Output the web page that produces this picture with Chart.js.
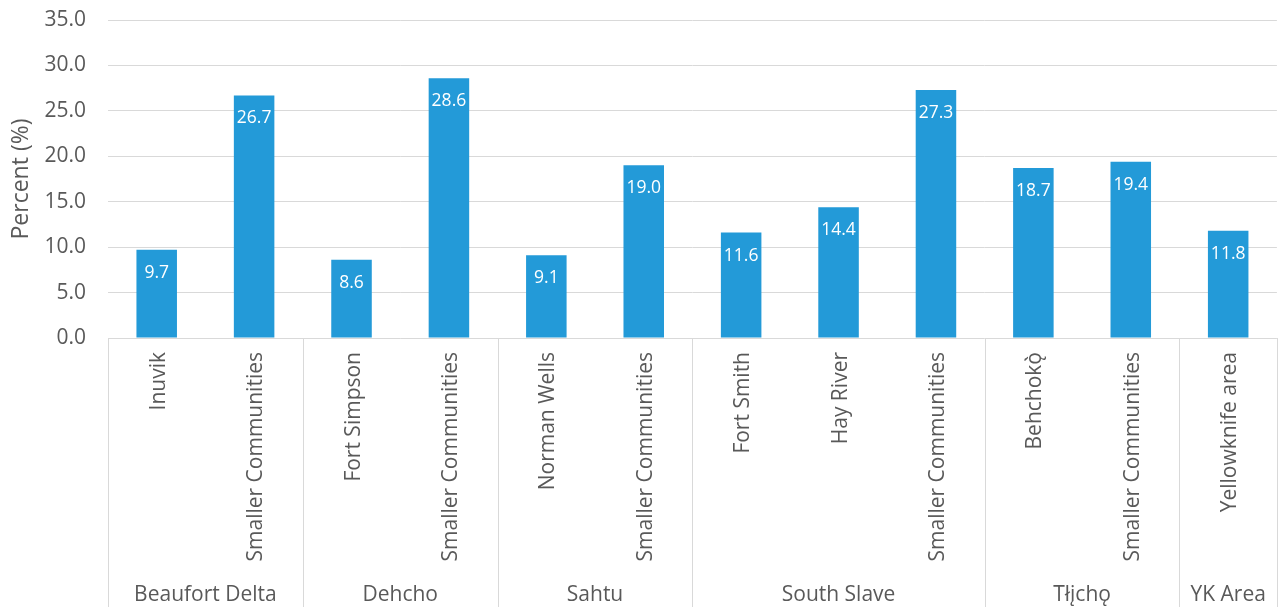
<!DOCTYPE html>
<html>
<head>
<meta charset="utf-8">
<script src="https://cdn.jsdelivr.net/npm/chart.js@4.4.1/dist/chart.umd.min.js"></script>
<style>
  html, body { margin: 0; padding: 0; background: #ffffff; }
  #wrap { width: 1280px; height: 607px; }
</style>
</head>
<body>
<div id="wrap"><canvas id="c" width="1280" height="607"></canvas></div>
<script>
// ---- data ----
const categories = ["Inuvik", "Smaller Communities", "Fort Simpson", "Smaller Communities",
  "Norman Wells", "Smaller Communities", "Fort Smith", "Hay River", "Smaller Communities",
  "Behchokǫ̀", "Smaller Communities", "Yellowknife area"];
const values = [9.7, 26.7, 8.6, 28.6, 9.1, 19.0, 11.6, 14.4, 27.3, 18.7, 19.4, 11.8];
const groupNames = ["Beaufort Delta", "Dehcho", "Sahtu", "South Slave", "Tłįchǫ", "YK Area"];
const groupSizes = [2, 2, 2, 3, 2, 1];
const yTicks = [0, 5, 10, 15, 20, 25, 30, 35];

// derived group centers / boundaries (in category index units)
const groupCenters = [];
const groupBounds = [-0.5];
{
  let start = 0;
  groupSizes.forEach(n => {
    groupCenters.push(start + (n - 1) / 2);
    start += n;
    groupBounds.push(start - 0.5);
  });
}

const FONT = "'Open Sans', 'Noto Sans', sans-serif";
const TXT = "#595959";
const GRID = "#d9d9d9";
const BAR = "#239ad8";

const groupPlugin = {
  id: 'groupSeparators',
  afterDraw(chart) {
    const x2 = chart.scales.x2;
    const ctx = chart.ctx;
    ctx.save();
    ctx.strokeStyle = GRID;
    ctx.lineWidth = 1;
    groupBounds.forEach(b => {
      let px = Math.round(x2.getPixelForValue(b)) + 0.5;
      if (px > chart.width) px = chart.width - 0.5;
      ctx.beginPath();
      ctx.moveTo(px, chart.chartArea.bottom);
      ctx.lineTo(px, chart.height);
      ctx.stroke();
    });
    ctx.restore();
  }
};

const valueLabels = {
  id: 'valueLabels',
  afterDatasetsDraw(chart) {
    const ctx = chart.ctx;
    const meta = chart.getDatasetMeta(0);
    ctx.save();
    ctx.fillStyle = '#ffffff';
    ctx.font = "17.5px " + FONT;
    ctx.textAlign = 'center';
    ctx.textBaseline = 'middle';
    meta.data.forEach((bar, i) => {
      ctx.fillText(values[i].toFixed(1), bar.x, bar.y + 23);
    });
    ctx.restore();
  }
};

new Chart(document.getElementById('c'), {
  type: 'bar',
  data: {
    labels: categories,
    datasets: [{
      data: values,
      backgroundColor: BAR,
      borderWidth: 0,
      categoryPercentage: 1.0,
      barPercentage: 0.416
    }]
  },
  options: {
    responsive: false,
    animation: false,
    devicePixelRatio: 1,
    layout: { padding: { top: 20, right: 1, left: 0, bottom: 0 } },
    plugins: { legend: { display: false }, tooltip: { enabled: false } },
    scales: {
      y: {
        min: 0, max: 35,
        afterBuildTicks(scale) { scale.ticks = yTicks.map(v => ({ value: v })); },
        afterFit(scale) { scale.width = 108; scale.paddingTop = 0; scale.paddingBottom = 0; },
        ticks: {
          callback: v => Number(v).toFixed(1),
          color: TXT,
          font: { family: FONT, size: 21 },
          padding: 22
        },
        grid: { color: GRID, lineWidth: 1, drawTicks: false },
        border: { display: false },
        title: {
          display: true,
          text: 'Percent (%)',
          color: TXT,
          font: { family: FONT, size: 23 },
          padding: { top: 8, bottom: 0 }
        }
      },
      x: {
        type: 'category',
        position: 'bottom',
        weight: 0,
        offset: true,
        afterFit(scale) { scale.height = 230; },
        grid: { display: false, drawTicks: false, offset: true },
        border: { display: false },
        ticks: {
          autoSkip: false,
          minRotation: 90,
          maxRotation: 90,
          labelOffset: 2,
          color: TXT,
          font: { family: FONT, size: 21 },
          padding: 14
        }
      },
      x2: {
        type: 'linear',
        position: 'bottom',
        weight: 1,
        offset: false,
        grace: 0,
        bounds: 'data',
        min: -0.5,
        max: categories.length - 0.5,
        afterBuildTicks(scale) { scale.ticks = groupCenters.map(v => ({ value: v })); },
        afterFit(scale) { scale.height = 39; },
        grid: { display: false, drawTicks: false, offset: false },
        border: { display: false },
        ticks: {
          autoSkip: false,
          maxRotation: 0,
          minRotation: 0,
          callback: (v, i) => groupNames[i],
          color: TXT,
          font: { family: FONT, size: 21 },
          padding: 14
        }
      }
    }
  },
  plugins: [groupPlugin, valueLabels]
});
</script>
</body>
</html>
